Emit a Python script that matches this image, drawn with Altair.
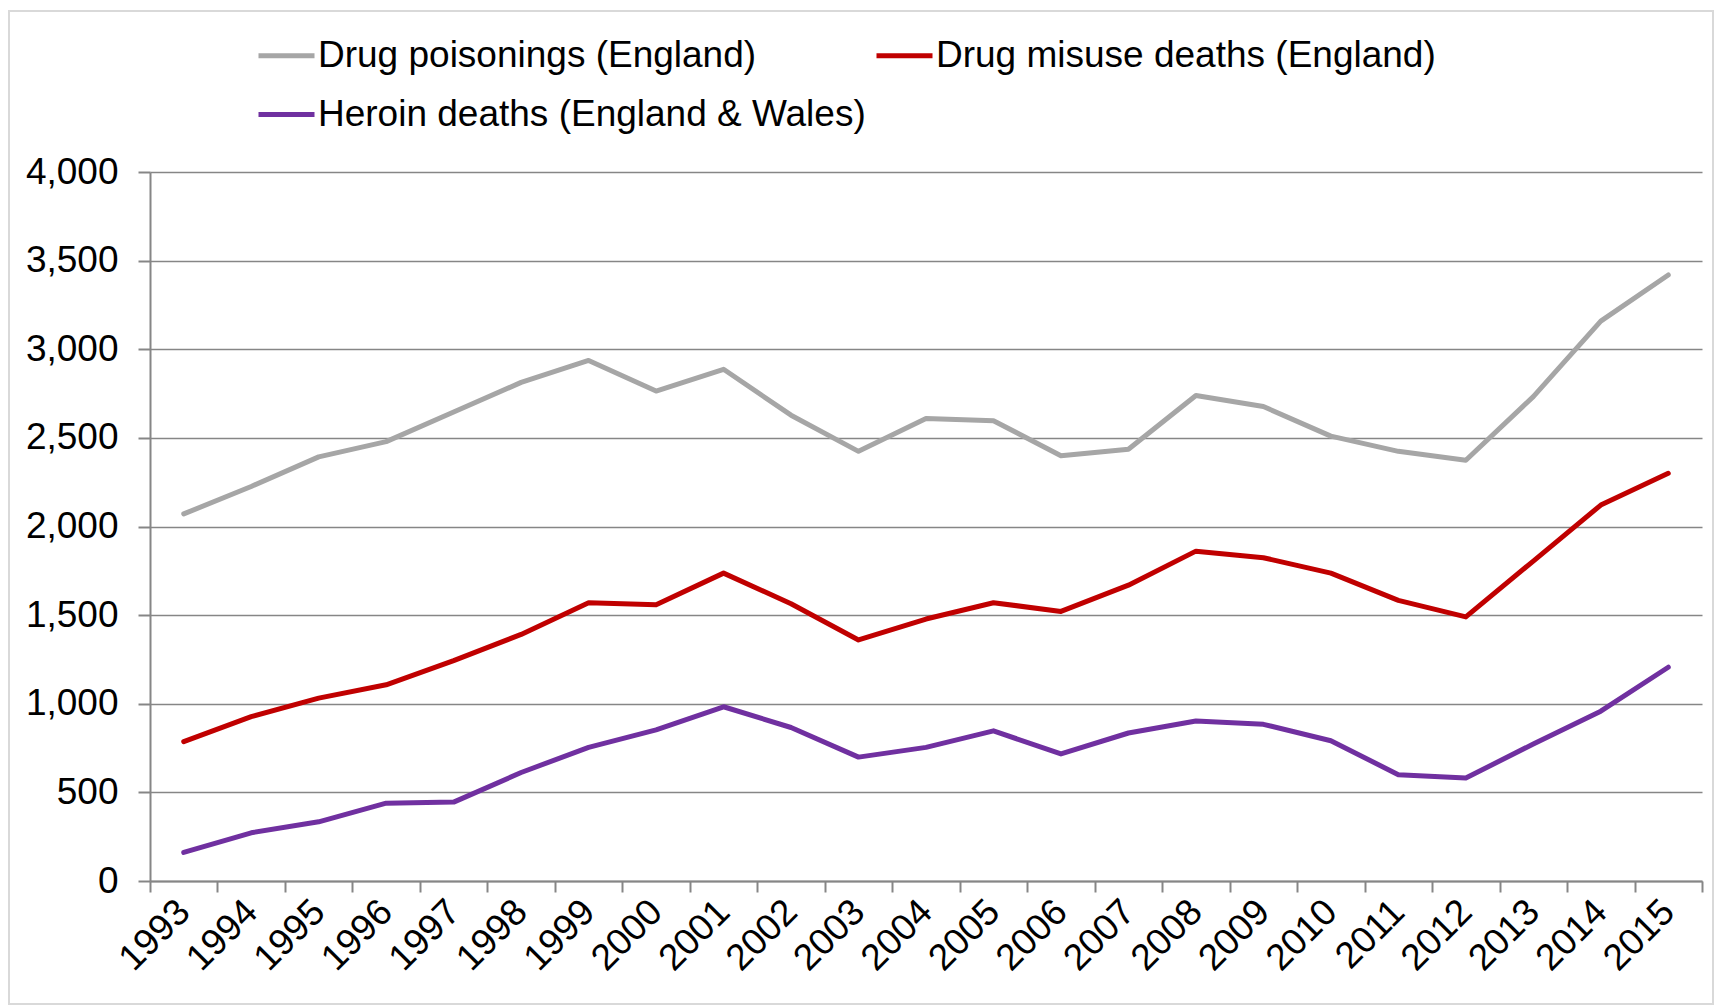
import altair as alt
import pandas as pd

years = ["1993", "1994", "1995", "1996", "1997", "1998", "1999", "2000", "2001", "2002",
         "2003", "2004", "2005", "2006", "2007", "2008", "2009", "2010", "2011", "2012",
         "2013", "2014", "2015"]

drug_poisonings = [2071, 2226, 2393, 2479, 2646, 2813, 2937, 2764, 2887, 2628,
                   2424, 2609, 2597, 2399, 2436, 2739, 2677, 2510, 2424, 2374,
                   2733, 3159, 3419]
drug_misuse = [786, 927, 1032, 1107, 1243, 1391, 1570, 1558, 1737, 1564,
               1360, 1478, 1570, 1521, 1669, 1861, 1824, 1737, 1583, 1490,
               1805, 2121, 2300]
heroin = [161, 272, 334, 439, 445, 612, 754, 853, 983, 866,
          699, 754, 847, 717, 835, 903, 884, 791, 600, 581,
          773, 958, 1206]

series_names = ["Drug poisonings (England)", "Drug misuse deaths (England)",
                "Heroin deaths (England & Wales)"]
series_colors = ["#A6A6A6", "#C00000", "#7030A0"]
legend_order = [series_names[0], series_names[2], series_names[1]]
y_ticks = [0, 500, 1000, 1500, 2000, 2500, 3000, 3500, 4000]

rows = []
for name, vals in zip(series_names, [drug_poisonings, drug_misuse, heroin]):
    for y, v in zip(years, vals):
        rows.append({"year": y, "value": v, "series": name})
df = pd.DataFrame(rows)

FONT = "Liberation Sans"
FS = 37
W, H = 1552, 709

lines = alt.Chart(df).mark_line(strokeWidth=5, strokeCap="round", strokeJoin="round").encode(
    x=alt.X("year:O", bandPosition=0.5,
            scale=alt.Scale(type="band", paddingInner=0, paddingOuter=0),
            axis=alt.Axis(title=None, tickBand="extent", labelAngle=-45, labelAlign="right",
                          labelBaseline="middle", labelPadding=14, tickSize=11,
                          labelFontSize=FS, grid=False)),
    y=alt.Y("value:Q", scale=alt.Scale(domain=[0, 4000], nice=False),
            axis=alt.Axis(title=None, values=y_ticks,
                          format=",d", tickSize=12, labelPadding=20, labelFontSize=FS,
                          grid=True)),
    color=alt.Color("series:N",
                    scale=alt.Scale(domain=series_names, range=series_colors),
                    legend=alt.Legend(title=None, orient="none", legendX=106, legendY=-147,
                                      values=legend_order,
                                      columns=2, columnPadding=0, rowPadding=10,
                                      symbolType="stroke", symbolSize=3136,
                                      symbolStrokeWidth=5, labelFontSize=FS,
                                      labelOffset=1, labelLimit=900, labelColor="#000000")),
)

border = alt.Chart(pd.DataFrame({"a": [0]})).mark_rect(
    fill=None, stroke="#D9D9D9", strokeWidth=2, clip=False
).encode(x=alt.value(-141), x2=alt.value(1563), y=alt.value(-161), y2=alt.value(832))

chart = alt.layer(border, lines).properties(
    width=W, height=H,
    autosize=alt.AutoSizeParams(type="none"),
    padding={"left": 150, "top": 172, "right": 17, "bottom": 125},
    background="white",
).configure_view(stroke=None).configure_axis(
    domainColor="#868686", domainWidth=2, tickColor="#868686", tickWidth=2,
    gridColor="#868686", gridWidth=1.5, labelColor="#000000", labelFont=FONT,
).configure_legend(labelFont=FONT)

chart.save("out.html", embed_options={"renderer": "svg", "actions": False})
